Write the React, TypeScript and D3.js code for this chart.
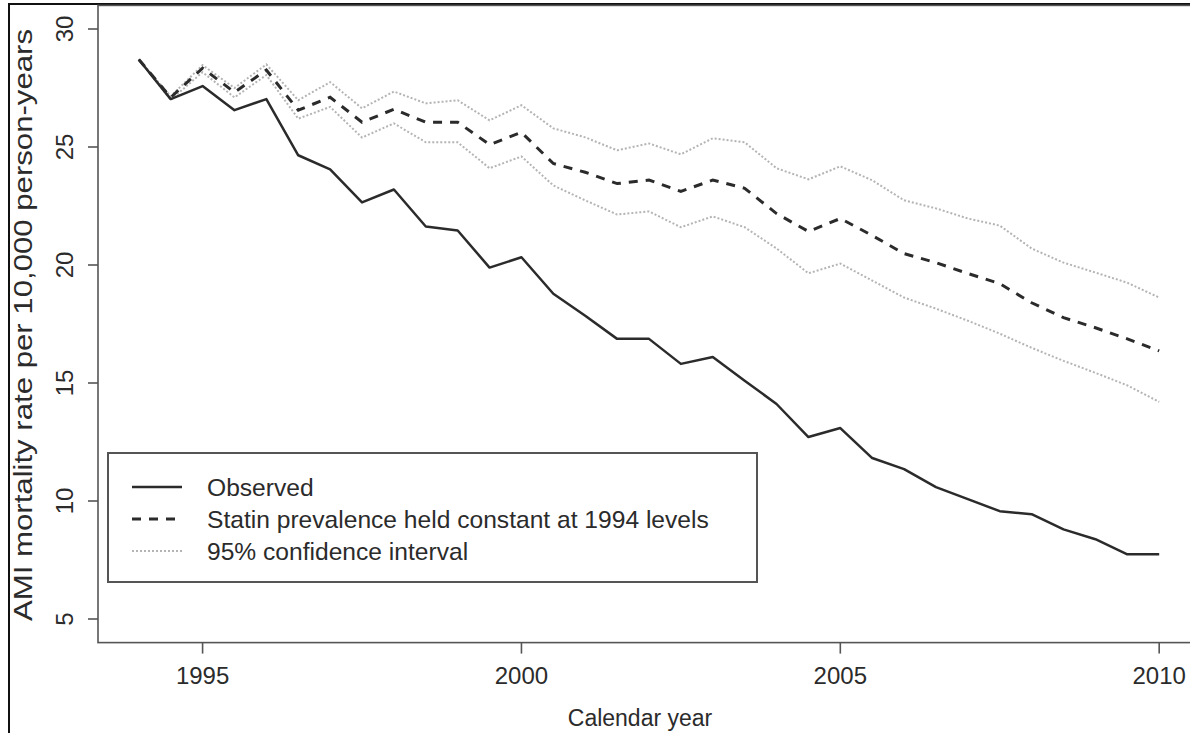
import React from 'react';
import * as d3 from 'd3';

// half-year time points
const years = [
  1994, 1994.5, 1995, 1995.5, 1996, 1996.5, 1997, 1997.5, 1998, 1998.5, 1999,
  1999.5, 2000, 2000.5, 2001, 2001.5, 2002, 2002.5, 2003, 2003.5, 2004, 2004.5,
  2005, 2005.5, 2006, 2006.5, 2007, 2007.5, 2008, 2008.5, 2009, 2009.5, 2010,
];

const observed = [
  28.71, 27.03, 27.58, 26.56, 27.03, 24.65, 24.05, 22.65, 23.2, 21.63, 21.46,
  19.89, 20.33, 18.78, 17.85, 16.87, 16.87, 15.81, 16.1, 15.1, 14.11, 12.71,
  13.09, 11.82, 11.35, 10.59, 10.08, 9.57, 9.44, 8.8, 8.38, 7.74, 7.74,
];

const statinConstant = [
  28.71, 27.1, 28.34, 27.32, 28.26, 26.56, 27.11, 26.05, 26.6, 26.05, 26.05,
  25.1, 25.62, 24.3, 23.93, 23.45, 23.6, 23.12, 23.6, 23.25, 22.18, 21.42,
  21.97, 21.25, 20.48, 20.1, 19.64, 19.21, 18.4, 17.77, 17.34, 16.87, 16.36,
];

const ciUpper = [
  28.71, 27.15, 28.47, 27.5, 28.5, 26.98, 27.75, 26.64, 27.35, 26.85, 26.98,
  26.13, 26.77, 25.79, 25.41, 24.86, 25.15, 24.69, 25.37, 25.2, 24.1, 23.63,
  24.18, 23.59, 22.74, 22.4, 21.97, 21.67, 20.7, 20.1, 19.68, 19.25, 18.62,
];

const ciLower = [
  28.71, 27.0, 28.17, 27.1, 28.05, 26.2, 26.7, 25.4, 26.0, 25.2, 25.2,
  24.1, 24.6, 23.37, 22.74, 22.14, 22.27, 21.6, 22.06, 21.6, 20.7, 19.65,
  20.06, 19.34, 18.62, 18.15, 17.64, 17.09, 16.49, 15.94, 15.43, 14.9, 14.2,
];

const xTicks = [1995, 2000, 2005, 2010];
const yTicks = [5, 10, 15, 20, 25, 30];

const legendItems = [
  { label: 'Observed', dash: 'none', color: '#2b2b2b', width: 2.5 },
  { label: 'Statin prevalence held constant at 1994 levels', dash: '9,8', color: '#2b2b2b', width: 3 },
  { label: '95% confidence interval', dash: '2,2', color: '#b4b4b4', width: 2 },
];

const W = 1190;
const H = 733;
const font = '"Liberation Sans", Arial, Helvetica, sans-serif';
const ink = '#2b2b2b';

export default function App() {
  // R-style 4% padding: x 1993.36..2010.64, y 4..31
  const x = d3.scaleLinear().domain([1993.36, 2010.64]).range([98, 1200]);
  const y = d3.scaleLinear().domain([4, 31]).range([642.6, 5.4]);

  const line = (vals: number[]) =>
    d3.line<number>()
      .x((_, i) => x(years[i]))
      .y(d => y(d))(vals) || '';

  const plotL = x.range()[0];
  const plotR = x.range()[1];
  const plotT = y.range()[1];
  const plotB = y.range()[0];

  const lx = 108, ly = 453, lw = 649, lh = 129;

  return (
    <svg width={W} height={H} style={{ position: 'absolute', left: 0, top: 0, background: '#fff' }} fontFamily={font}>
      {/* outer frame */}
      <rect x={9} y={4} width={W} height={H} fill="none" stroke="#111" strokeWidth={2} />

      {/* plot box */}
      <rect x={plotL} y={plotT} width={plotR - plotL} height={plotB - plotT} fill="none" stroke="#555" strokeWidth={1.6} />

      {/* y axis */}
      {yTicks.map(t => (
        <g key={t}>
          <line x1={plotL - 10} x2={plotL} y1={y(t)} y2={y(t)} stroke="#555" strokeWidth={1.6} />
          <text transform={`translate(65,${y(t)}) rotate(-90)`} textAnchor="middle" dy="0.35em" fontSize={24} fill={ink}>{t}</text>
        </g>
      ))}
      <text
        transform={`translate(23,${(plotT + plotB) / 2 + 1}) rotate(-90)`}
        textAnchor="middle" dy="0.35em" fontSize={26} fill={ink}
        textLength={592} lengthAdjust="spacingAndGlyphs"
      >
        AMI mortality rate per 10,000 person-years
      </text>

      {/* x axis */}
      {xTicks.map(t => (
        <g key={t}>
          <line x1={x(t)} x2={x(t)} y1={plotB} y2={plotB + 11} stroke="#555" strokeWidth={1.6} />
          <text x={x(t)} y={676} textAnchor="middle" dy="0.35em" fontSize={24} fill={ink}>{t}</text>
        </g>
      ))}
      <text x={640} y={718} textAnchor="middle" dy="0.35em" fontSize={23} fill={ink}>Calendar year</text>

      {/* series */}
      <path d={line(ciUpper)} fill="none" stroke="#b4b4b4" strokeWidth={2} strokeDasharray="2,2" />
      <path d={line(ciLower)} fill="none" stroke="#b4b4b4" strokeWidth={2} strokeDasharray="2,2" />
      <path d={line(statinConstant)} fill="none" stroke={ink} strokeWidth={3} strokeDasharray="9,8" />
      <path d={line(observed)} fill="none" stroke={ink} strokeWidth={2.5} strokeLinejoin="round" />

      {/* legend */}
      <rect x={lx} y={ly} width={lw} height={lh} fill="#fff" stroke="#555" strokeWidth={2} />
      {legendItems.map((it, i) => {
        const cy = 487 + i * 32;
        return (
          <g key={it.label}>
            <line x1={132} x2={182} y1={cy} y2={cy} stroke={it.color} strokeWidth={it.width} strokeDasharray={it.dash} />
            <text x={207} y={cy} dy="0.35em" fontSize={24.6} fill={ink}>{it.label}</text>
          </g>
        );
      })}
    </svg>
  );
}
